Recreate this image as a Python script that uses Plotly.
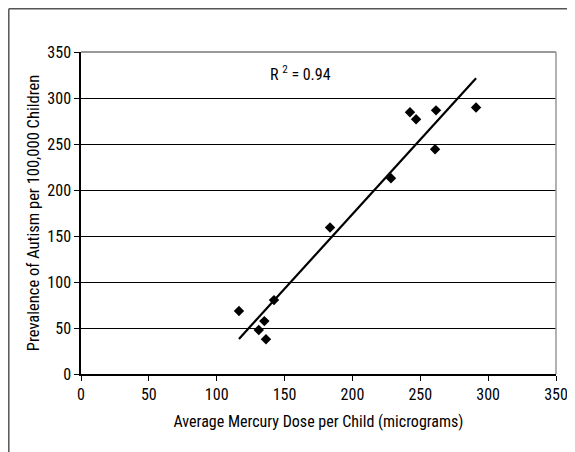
import numpy as np
import plotly.graph_objects as go

mercury_dose = [116.4, 131.0, 135.1, 136.3, 142.2, 183.5, 228.4, 242.4, 246.9, 260.9, 261.6, 291.1]
autism_prevalence = [68.4, 47.8, 57.5, 37.7, 80.3, 159.3, 212.8, 284.5, 276.9, 244.3, 286.6, 289.6]
x_ticks = [0, 50, 100, 150, 200, 250, 300, 350]
y_ticks = [0, 50, 100, 150, 200, 250, 300, 350]
r2_label = "R <sup>2</sup> = 0.94"

xs = np.array(mercury_dose)
ys = np.array(autism_prevalence)
slope, intercept = np.polyfit(xs, ys, 1)
fit_x = np.array([xs.min(), xs.max()])
fit_y = slope * fit_x + intercept

FONT = "Liberation Sans Narrow, Arial Narrow, Roboto Condensed, Liberation Sans, Arial, sans-serif"

fig = go.Figure()
fig.add_trace(go.Scatter(x=fit_x, y=fit_y, mode="lines",
                         line=dict(color="black", width=2.2), showlegend=False, hoverinfo="skip"))
fig.add_trace(go.Scatter(x=mercury_dose, y=autism_prevalence, mode="markers",
                         marker=dict(symbol="diamond", size=8, color="black"),
                         showlegend=False))

fig.update_layout(
    width=575, height=452,
    margin=dict(l=73, r=27, t=44, b=86),
    paper_bgcolor="white", plot_bgcolor="white",
    font=dict(family=FONT, size=16, color="black"),
    xaxis=dict(range=[0, 350], tickvals=x_ticks, ticks="outside", ticklen=5,
               tickcolor="black", showline=True, linecolor="black", linewidth=1.5,
               showgrid=False, zeroline=False, tickfont=dict(size=16),
               title=dict(text="Average Mercury Dose per Child (micrograms)",
                          font=dict(size=16), standoff=13)),
    yaxis=dict(range=[0, 350], tickvals=y_ticks, ticks="outside", ticklen=5,
               tickcolor="black", showline=True, linecolor="black", linewidth=1.5,
               showgrid=True, gridcolor="black", gridwidth=1, zeroline=False,
               tickfont=dict(size=16),
               title=dict(text="Prevalence of Autism per 100,000 Children",
                          font=dict(size=16.5), standoff=4)),
    shapes=[
        dict(type="line", xref="paper", yref="paper", x0=0, x1=1, y0=1, y1=1,
             line=dict(color="#777777", width=1.5)),
        dict(type="line", xref="paper", yref="paper", x0=1, x1=1, y0=0, y1=1,
             line=dict(color="#999999", width=1.5)),
        dict(type="line", xref="paper", yref="paper", x0=-0.152, x1=1.2, y0=1.134, y1=1.134,
             line=dict(color="#555555", width=1.5)),
        dict(type="line", xref="paper", yref="paper", x0=-0.152, x1=-0.152, y0=-0.4, y1=1.134,
             line=dict(color="#555555", width=1.5)),
    ],
    annotations=[dict(x=161.4, y=327, xref="x", yref="y", text=r2_label,
                      showarrow=False, font=dict(size=16))],
)

fig.write_html("out.html")
